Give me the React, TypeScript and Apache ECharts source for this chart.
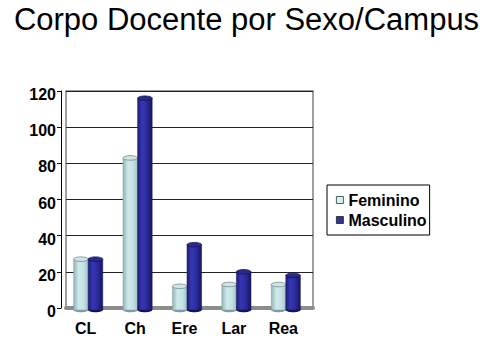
import React, { useEffect, useRef } from "react";
import * as echarts from "echarts";

const titleText = "Corpo Docente por Sexo/Campus";
const categories = ["CL", "Ch", "Ere", "Lar", "Rea"];
const feminino = [27, 83, 12, 13, 13];
const masculino = [27, 116, 35, 20, 18];
const yTicks = { min: 0, max: 120, interval: 20 };

const FONT = "'Liberation Sans', Arial, sans-serif";

function makeCylinderRender(side: number, colors: { body: any; top: string; topStroke: string; edge: string }) {
  return (params: any, api: any) => {
    const cat = api.value(0);
    const val = api.value(1);
    const top = api.coord([cat, val]);
    const base = api.coord([cat, 0]);
    const band = api.size([1, 0])[0];
    const w = band * 0.295;
    const shift = -2.5;
    const x0 = side === 0 ? top[0] + shift - w : top[0] + shift;
    const ry = 2.3;
    const baseY = base[1] + 2;
    return {
      type: "group",
      children: [
        {
          type: "ellipse",
          shape: { cx: x0 + w / 2, cy: baseY, rx: w / 2, ry: ry },
          style: { fill: colors.edge },
        },
        {
          type: "rect",
          shape: { x: x0, y: top[1], width: w, height: baseY - top[1] },
          style: { fill: colors.body, stroke: colors.edge, lineWidth: 0.5 },
        },
        {
          type: "ellipse",
          shape: { cx: x0 + w / 2, cy: top[1], rx: w / 2, ry: ry },
          style: { fill: colors.top, stroke: colors.topStroke, lineWidth: 0.8 },
        },
      ],
    };
  };
}

export default function App() {
  const ref = useRef<HTMLDivElement>(null);
  useEffect(() => {
    if (!ref.current) return;
    const chart = echarts.init(ref.current, null, { renderer: "svg" });
    const femBody = new echarts.graphic.LinearGradient(0, 0, 1, 0, [
      { offset: 0, color: "#93b5b8" },
      { offset: 0.35, color: "#cfe9ea" },
      { offset: 0.7, color: "#c4e2e4" },
      { offset: 1, color: "#a3c3c6" },
    ]);
    const mascBody = new echarts.graphic.LinearGradient(0, 0, 1, 0, [
      { offset: 0, color: "#1f1f78" },
      { offset: 0.3, color: "#3636b4" },
      { offset: 0.6, color: "#2e2ea2" },
      { offset: 1, color: "#161660" },
    ]);
    chart.setOption({
      animation: false,
      backgroundColor: "#ffffff",
      title: {
        text: titleText,
        left: "center",
        top: 4,
        padding: 0,
        textStyle: {
          fontFamily: FONT,
          fontSize: 31,
          fontWeight: "normal",
          color: "#000",
          lineHeight: 31,
        },
      },
      legend: {
        orient: "vertical",
        left: 327,
        top: 185,
        padding: [7, 3, 7, 9],
        itemGap: 4,
        itemWidth: 7,
        itemHeight: 7,
        borderColor: "#000",
        borderWidth: 1,
        icon: "rect",
        textStyle: { fontFamily: FONT, fontSize: 16, fontWeight: "bold", color: "#000" },
        data: [
          { name: "Feminino", itemStyle: { color: "#ccf2f4", borderColor: "#333", borderWidth: 0.8 } },
          { name: "Masculino", itemStyle: { color: "#333399", borderColor: "#222", borderWidth: 0.8 } },
        ],
      },
      grid: {
        left: 66,
        right: 180,
        top: 91,
        bottom: 47,
        show: true,
        borderColor: "#808080",
        borderWidth: 1.5,
        backgroundColor: "#ffffff",
      },
      xAxis: {
        type: "category",
        data: categories,
        offset: 2,
        axisLine: { show: true, lineStyle: { color: "#8c8c8c", width: 4 } },
        axisTick: { show: false },
        axisLabel: {
          fontFamily: FONT,
          fontSize: 16,
          fontWeight: "bold",
          color: "#000",
          margin: 10,
          padding: [0, 10, 0, 0],
        },
      },
      yAxis: {
        type: "value",
        min: yTicks.min,
        max: yTicks.max,
        interval: yTicks.interval,
        offset: 5,
        axisLine: { show: true, lineStyle: { color: "#000", width: 1 } },
        axisTick: { show: true, length: 4, lineStyle: { color: "#000" } },
        splitLine: { show: true, lineStyle: { color: "#222", width: 1 } },
        axisLabel: {
          fontFamily: FONT,
          fontSize: 16,
          fontWeight: "bold",
          color: "#000",
          margin: 5,
          verticalAlign: "top",
          lineHeight: 7,
        },
      },
      series: [
        {
          name: "Feminino",
          type: "custom",
          clip: false,
          itemStyle: { color: "#ccf2f4" },
          encode: { x: 0, y: 1 },
          data: feminino.map((v, i) => [i, v]),
          renderItem: makeCylinderRender(0, {
            body: femBody,
            top: "#d3e2e3",
            topStroke: "#6f8d90",
            edge: "#7f9c9f",
          }),
        },
        {
          name: "Masculino",
          type: "custom",
          clip: false,
          itemStyle: { color: "#333399" },
          encode: { x: 0, y: 1 },
          data: masculino.map((v, i) => [i, v]),
          renderItem: makeCylinderRender(1, {
            body: mascBody,
            top: "#2a2a8c",
            topStroke: "#14145a",
            edge: "#14145a",
          }),
        },
      ],
    });
    return () => chart.dispose();
  }, []);
  return <div ref={ref} style={{ width: 493, height: 355, position: "absolute", left: 0, top: 0 }} />;
}
